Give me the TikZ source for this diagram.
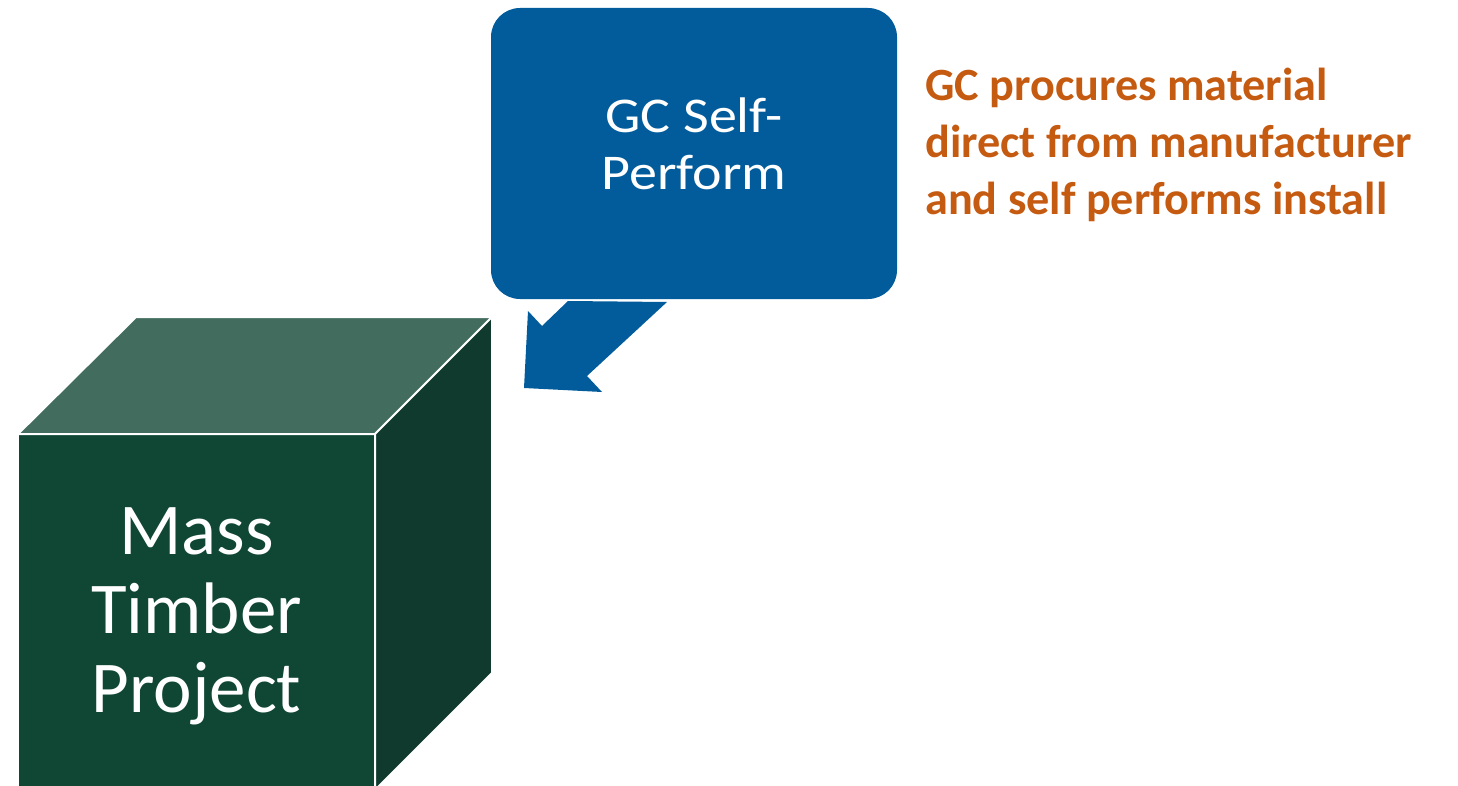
\documentclass[tikz,border=0pt]{standalone}
\usepackage{graphicx}
\usepackage{fontspec}
\setmainfont{Carlito}
\definecolor{gcblue}{RGB}{2,92,155}
\definecolor{frontgreen}{RGB}{16,71,52}
\definecolor{topgreen}{RGB}{65,108,94}
\definecolor{sidegreen}{RGB}{15,58,45}
\definecolor{noteorange}{RGB}{197,90,17}
\newcommand{\widetext}[1]{\scalebox{1.12}[1]{#1}}
\begin{document}
\begin{tikzpicture}[x=1pt,y=-1pt,
  face/.style={draw=white,line width=2pt,line join=miter},
  gcbox/.style={fill=gcblue,rounded corners=29pt,minimum width=406pt,minimum height=291pt,inner sep=0pt},
  gctext/.style={text=white,align=center,inner sep=0pt,font=\fontsize{50}{57}\selectfont},
  cubetext/.style={text=white,align=center,inner sep=0pt,font=\fontsize{73}{79}\selectfont},
  notetext/.style={text=noteorange,align=left,inner sep=0pt,anchor=north west,font=\bfseries\fontsize{46.2}{57}\selectfont},
  blockarrow/.style={fill=gcblue}]
\useasboundingbox (0,0) rectangle (1458,786);
\clip (0,0) rectangle (1458,786);
% cube
\coordinate (ftl) at (18,434);
\coordinate (ftr) at (375,434);
\coordinate (fbl) at (18,790);
\coordinate (fbr) at (375,790);
\coordinate (btl) at (136,317);
\coordinate (btr) at (492,317);
\coordinate (bbr) at (492,673);
\filldraw[face,fill=frontgreen] (ftl) -- (ftr) -- (fbr) -- (fbl) -- cycle;
\filldraw[face,fill=topgreen] (ftl) -- (btl) -- (btr) -- (ftr) -- cycle;
\filldraw[face,fill=sidegreen] (ftr) -- (btr) -- (bbr) -- (fbr) -- cycle;
\node[cubetext] (mtp) at (196.5,616) {Mass\\Timber\\Project};
% GC box
\node[gcbox] (gc) at (694,153.5) {};
\node[gctext] (gct) at (694,144) {\widetext{GC Self-}\\\widetext{Perform}};
% arrow
\coordinate (a1) at (568,301);
\coordinate (a2) at (667,302);
\coordinate (a3) at (587,376);
\coordinate (a4) at (602,392);
\coordinate (a5) at (524,388);
\coordinate (a6) at (528,311);
\coordinate (a7) at (542,326);
\fill[blockarrow] (a1) -- (a2) -- (a3) -- (a4) -- (a5) -- (a6) -- (a7) -- cycle;
% note
\node[notetext] (note) at (925,68) {GC procures material\\direct from manufacturer\\and self performs install};
\end{tikzpicture}
\end{document}
